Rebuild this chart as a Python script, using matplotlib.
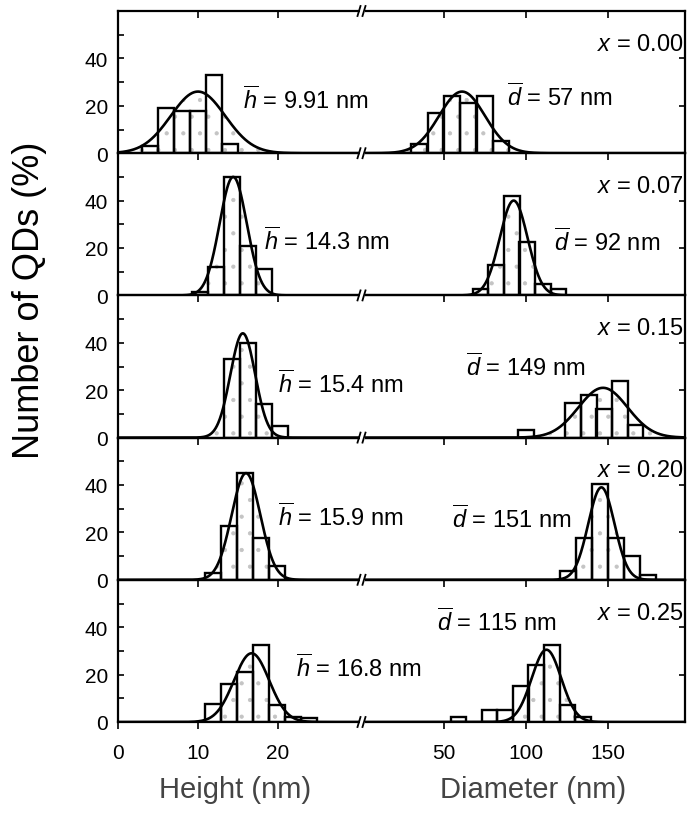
import numpy as np
import matplotlib
matplotlib.use('Agg')
import matplotlib.pyplot as plt
from matplotlib.lines import Line2D
from matplotlib.patches import Rectangle

plt.rcParams['font.family'] = ['Liberation Sans', 'DejaVu Sans']
plt.rcParams['mathtext.fontset'] = 'custom'
plt.rcParams['mathtext.rm'] = 'Liberation Sans'
plt.rcParams['mathtext.it'] = 'Liberation Sans:italic'
plt.rcParams['hatch.linewidth'] = 0.6

# ---------------- data ----------------
compositions = ['0.00', '0.07', '0.15', '0.20', '0.25']
h_mean_labels = ['9.91', '14.3', '15.4', '15.9', '16.8']
d_mean_labels = ['57', '92', '149', '151', '115']

# Height histograms: bin left edges (nm) and percentages
h_left_000 = [3, 5, 7, 9, 11, 13]
h_pct_000 = [3, 19, 18, 18, 33, 4]
h_left_007 = [9.3, 11.3, 13.3, 15.3, 17.3]
h_pct_007 = [1.5, 12, 50, 21, 11]
h_left_015 = [13.2, 15.2, 17.2, 19.2]
h_pct_015 = [33, 40, 14, 5]
h_left_020 = [10.9, 12.9, 14.9, 16.9, 18.9]
h_pct_020 = [3, 22.5, 45, 17.5, 6]
h_left_025 = [10.9, 12.9, 14.9, 16.9, 18.9, 20.9, 22.9]
h_pct_025 = [7.5, 16, 21, 32.5, 7, 2, 1.5]
h_bin_width = 2.0

# Diameter histograms: bin left edges (nm) and percentages
d_left_000 = [30, 40, 50, 60, 70, 80]
d_pct_000 = [4, 17, 24, 21, 24, 5]
d_left_007 = [67.5, 77, 86.5, 96, 105.5, 115]
d_pct_007 = [2.6, 13, 42, 22.5, 4.7, 2.6]
d_left_015 = [95, 124, 133.5, 143, 152.5, 162]
d_pct_015 = [3, 14.6, 18, 12, 24, 5.5]
d_left_020 = [121, 130.7, 140.4, 150.1, 159.8, 169.5]
d_pct_020 = [3.7, 17.5, 40.5, 17.5, 10, 2]
d_left_025 = [54, 73, 82.5, 92, 101.5, 111, 120.5, 130]
d_pct_025 = [2, 5, 5, 15, 24, 32.6, 7, 2]
d_bin_width = 9.6

# Gaussian fits (centre, sigma, amplitude in %)
h_fit_mu = [10.0, 14.4, 15.6, 16.0, 16.7]
h_fit_sigma = [3.4, 1.7, 1.55, 1.8, 2.2]
h_fit_amp = [26, 50, 44, 45, 29]
d_fit_mu = [61, 92.5, 147, 146, 112.5]
d_fit_sigma = [14, 8.5, 15, 8, 9]
d_fit_amp = [26, 40, 21, 39, 30.5]

# label positions (data coords)
h_text_xy = [(15.6, 23), (18.3, 23.5), (20.0, 23), (20.0, 27), (22.3, 23)]
d_text_xy = [(88.5, 24), (117, 23), (63.7, 30), (54.6, 26), (45.6, 42.5)]

h_lefts = [h_left_000, h_left_007, h_left_015, h_left_020, h_left_025]
h_pcts = [h_pct_000, h_pct_007, h_pct_015, h_pct_020, h_pct_025]
d_lefts = [d_left_000, d_left_007, d_left_015, d_left_020, d_left_025]
d_pcts = [d_pct_000, d_pct_007, d_pct_015, d_pct_020, d_pct_025]

# ---------------- layout ----------------
W, H = 692, 828
fig = plt.figure(figsize=(W / 100, H / 100), dpi=100)
x0, xb, x1 = 118, 362, 685
ytop, ybot = 12, 723
ph = (ybot - ytop) / 5
HMAX, DMAX, YMAX = 30.5, 197, 60
LW = 1.6
FS_TICK = 15
FS_ANN = 17


def gauss(x, mu, s, a):
    return a * np.exp(-0.5 * ((x - mu) / s) ** 2)


def draw_hist(ax, lefts, pcts, width, mu, s, a, xmax):
    xs = np.linspace(0, xmax, 600)
    g = gauss(xs, mu, s, a)
    ax.fill_between(xs, 0, g, facecolor='none', edgecolor='#c4c4c4',
                    hatch='.', linewidth=0, zorder=1)
    ax.bar(lefts, pcts, width=width, align='edge', facecolor='none',
           edgecolor='black', linewidth=1.7, zorder=2)
    ax.plot(xs, g, color='black', lw=1.9, zorder=3)


for i in range(5):
    top = ytop + i * ph
    bottom = top + ph
    axL = fig.add_axes([x0 / W, 1 - bottom / H, (xb - x0) / W, ph / H])
    axR = fig.add_axes([xb / W, 1 - bottom / H, (x1 - xb) / W, ph / H])
    for ax in (axL, axR):
        ax.set_facecolor('none')
        ax.set_ylim(0, YMAX)
        for sp in ax.spines.values():
            sp.set_linewidth(LW)
    axL.set_xlim(0, HMAX)
    axR.set_xlim(0, DMAX)
    axL.spines['right'].set_visible(False)
    axR.spines['left'].set_visible(False)

    draw_hist(axL, h_lefts[i], h_pcts[i], h_bin_width,
              h_fit_mu[i], h_fit_sigma[i], h_fit_amp[i], HMAX)
    draw_hist(axR, d_lefts[i], d_pcts[i], d_bin_width,
              d_fit_mu[i], d_fit_sigma[i], d_fit_amp[i], DMAX)

    # y ticks
    axL.set_yticks([0, 20, 40])
    axL.set_yticks([10, 30, 50], minor=True)
    axL.tick_params(axis='y', which='both', direction='in', length=4,
                    width=1.2, labelsize=FS_TICK, pad=7)
    axR.yaxis.tick_right()
    axR.set_yticks([20, 40])
    axR.tick_params(axis='y', direction='in', length=4, width=1.2,
                    labelright=False)

    # x ticks
    axL.set_xticks([0, 10, 20])
    axR.set_xticks([50, 100, 150])
    last = (i == 4)
    for ax in (axL, axR):
        ax.tick_params(axis='x', direction='out', length=5, width=1.2,
                       labelsize=FS_TICK, labelbottom=last, pad=10)
    if i == 0:
        for ax, tk in ((axL, [0, 10, 20]), (axR, [50, 100, 150])):
            sec = ax.secondary_xaxis('top')
            sec.set_xticks(tk)
            sec.tick_params(direction='in', length=5, width=1.2,
                            labeltop=False)
            sec.spines['top'].set_visible(False)

    # annotations
    hx, hy = h_text_xy[i]
    axL.text(hx, hy, r'$\overline{h}$ = ' + h_mean_labels[i] + ' nm',
             fontsize=FS_ANN, ha='left', va='center', zorder=5)
    dx, dy = d_text_xy[i]
    axR.text(dx, dy, r'$\overline{d}$ = ' + d_mean_labels[i] + ' nm',
             fontsize=FS_ANN, ha='left', va='center', zorder=5)
    axR.text(0.995, 0.77, r'$x$ = ' + compositions[i], transform=axR.transAxes,
             fontsize=FS_ANN, ha='right', va='center', zorder=5)

# break marks on axis lines
break_ys = [ytop] + [ytop + (k + 1) * ph for k in range(5)]
for yb in break_ys:
    yf = 1 - yb / H
    fig.add_artist(Rectangle(((xb - 2.5) / W, yf - 3 / H), 5 / W, 6 / H,
                             transform=fig.transFigure, facecolor='white',
                             edgecolor='none', zorder=10))
    for dxp in (-3, 2):
        fig.add_artist(Line2D([(xb + dxp - 1.5) / W, (xb + dxp + 1.5) / W],
                              [yf - 5 / H, yf + 5 / H],
                              transform=fig.transFigure, color='black',
                              lw=1.3, zorder=11))

# axis labels
fig.text(235 / W, 1 - 790 / H, 'Height (nm)', fontsize=21,
         ha='center', va='center', color='#444444')
fig.text(533 / W, 1 - 790 / H, 'Diameter (nm)', fontsize=21,
         ha='center', va='center', color='#444444')
fig.text(30 / W, 1 - 300 / H, 'Number of QDs (%)', fontsize=26,
         rotation=90, ha='center', va='center')

fig.savefig('out.png', dpi=100)
